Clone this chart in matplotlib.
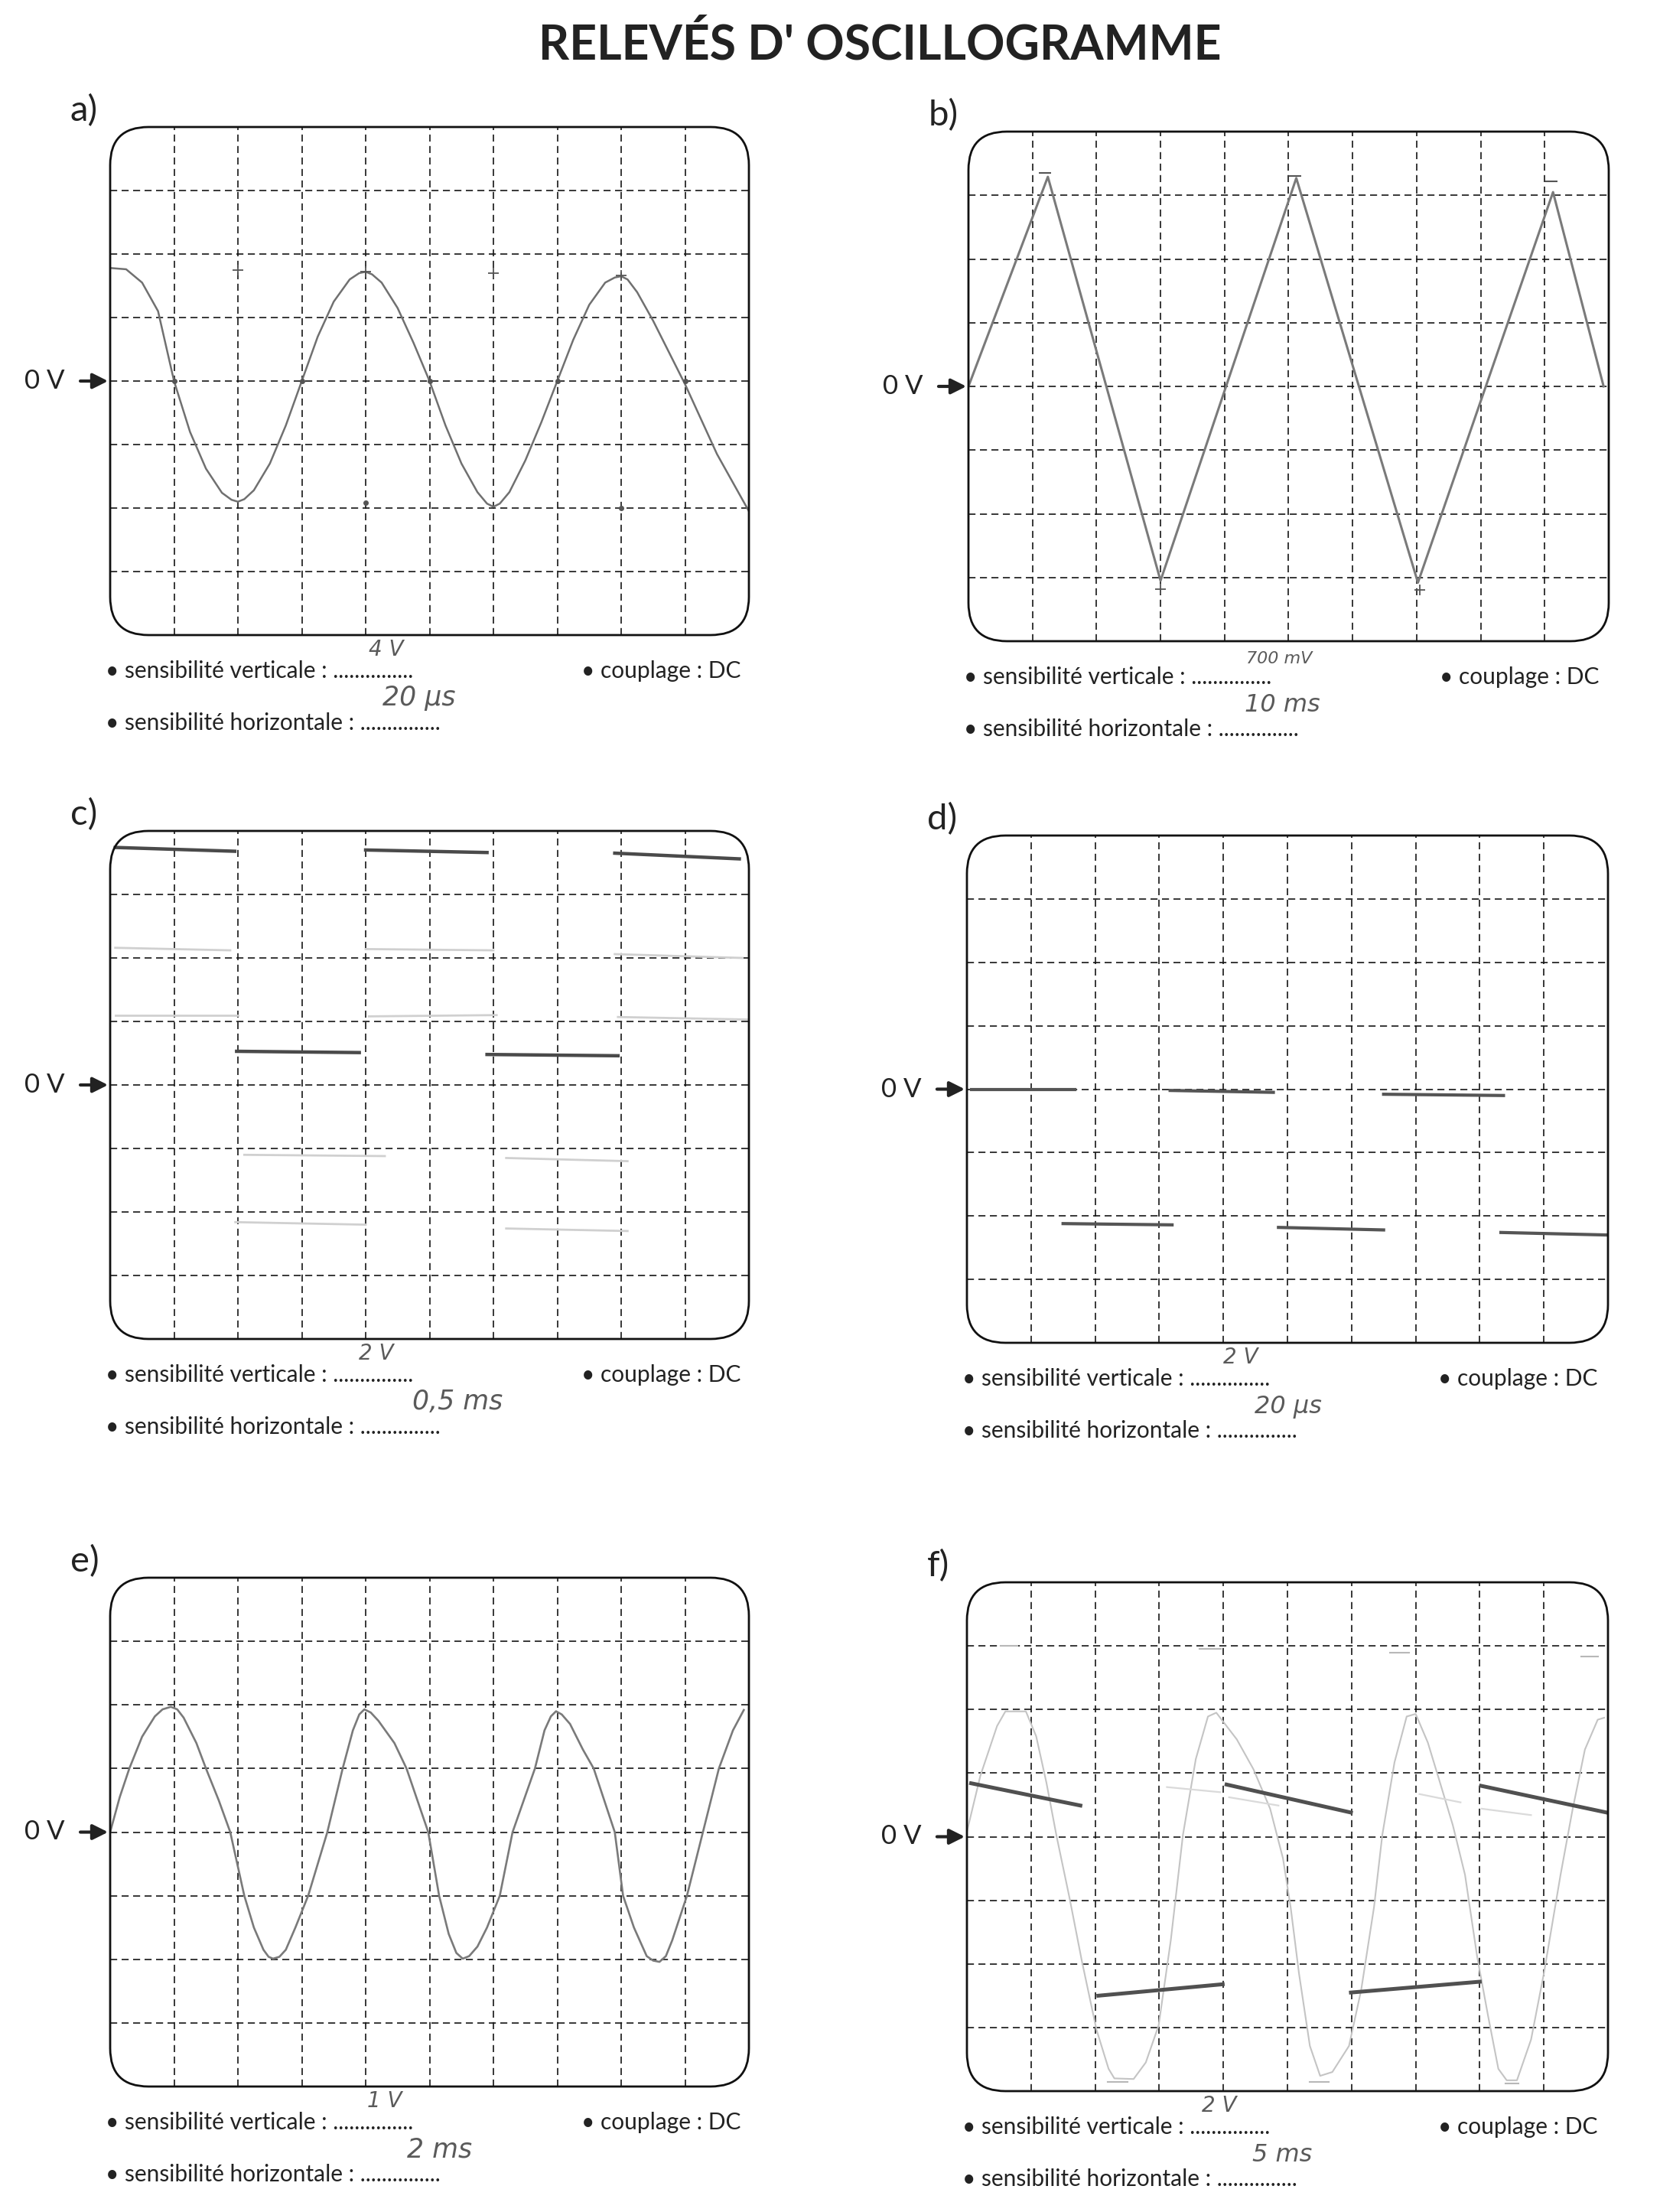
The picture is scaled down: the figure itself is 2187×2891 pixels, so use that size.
import matplotlib.pyplot as plt
from matplotlib.patches import FancyBboxPatch

W, H = 2187, 2891
plt.rcParams['font.family'] = ['Lato', 'DejaVu Sans']

# all traces in screen divisions: x 0..10, y -4..4 (0 V in the middle)

# a) sine, read every quarter division (plus a few around the turns)
a_t = [0.0, 0.25, 0.5, 0.75, 1.0, 1.25, 1.5, 1.75, 1.9, 2.0, 2.1, 2.25, 2.5, 2.75, 3.0, 3.25,
       3.5, 3.75, 3.9, 4.0, 4.1, 4.25, 4.5, 4.75, 5.0, 5.25, 5.5, 5.75, 5.9, 6.0, 6.1, 6.25,
       6.5, 6.75, 7.0, 7.25, 7.5, 7.75, 7.9, 8.0, 8.1, 8.25, 8.5, 8.75, 9.0, 9.25, 9.5, 9.75,
       10.0]
a_v = [1.78, 1.76, 1.55, 1.1, 0.0, -0.8, -1.38, -1.76, -1.87, -1.9, -1.86, -1.72, -1.3, -0.7,
       0.0, 0.7, 1.25, 1.6, 1.7, 1.72, 1.68, 1.55, 1.15, 0.6, 0.0, -0.7, -1.3, -1.75, -1.93,
       -1.98, -1.93, -1.75, -1.25, -0.65, 0.0, 0.65, 1.2, 1.55, 1.63, 1.65, 1.6, 1.4, 0.95,
       0.45, -0.05, -0.6, -1.15, -1.6, -2.05]
a_plus_t = [2, 4, 6, 8]
a_plus_v = [1.75, 1.72, 1.7, 1.66]
a_dot_t = [1, 3, 5, 7, 9, 4, 8]
a_dot_v = [0, 0, 0, 0, 0, -1.92, -2.0]

# b) triangle
b_t = [0.0, 1.24, 3.0, 5.12, 7.02, 9.13, 9.92]
b_v = [0.0, 3.29, -3.05, 3.27, -3.08, 3.05, 0.0]
b_top_t = [1.2, 5.1, 9.1]
b_top_v = [3.35, 3.3, 3.22]
b_bot_t = [3.0, 7.05]
b_bot_v = [-3.18, -3.2]

# c) square wave: dark final trace + faint erased attempts
c_x0 = [0.08, 1.98, 4.0, 5.9, 7.9]
c_x1 = [1.95, 3.9, 5.9, 7.95, 9.85]
c_y0 = [3.74, 0.53, 3.7, 0.48, 3.65]
c_y1 = [3.68, 0.51, 3.66, 0.46, 3.56]
cf_x0 = [0.08, 4.0, 7.9, 0.08, 4.05, 7.95, 2.1, 6.2, 1.96, 6.2]
cf_x1 = [1.88, 6.0, 9.9, 2.0, 6.05, 10.0, 4.3, 8.1, 4.0, 8.1]
cf_y0 = [2.16, 2.14, 2.06, 1.1, 1.08, 1.07, -1.1, -1.15, -2.16, -2.26]
cf_y1 = [2.12, 2.12, 2.0, 1.1, 1.1, 1.03, -1.12, -1.2, -2.2, -2.3]

# d) pulses
d_x0 = [0.07, 3.17, 6.5, 1.5, 4.86, 8.33]
d_x1 = [1.68, 4.78, 8.37, 3.2, 6.5, 10.0]
d_y0 = [0.0, -0.02, -0.08, -2.12, -2.18, -2.26]
d_y1 = [0.0, -0.05, -0.1, -2.14, -2.22, -2.3]

# e) sine
e_t = [0.0, 0.15, 0.3, 0.5, 0.7, 0.82, 0.95, 1.05, 1.15, 1.35, 1.5, 1.7, 1.88, 2.1, 2.25,
       2.4, 2.48, 2.55, 2.65, 2.75, 2.9, 3.1, 3.4, 3.64, 3.8, 3.9, 3.98, 4.08, 4.2, 4.45,
       4.64, 4.98, 5.15, 5.3, 5.42, 5.52, 5.62, 5.75, 5.9, 6.1, 6.3, 6.65, 6.8, 6.9, 6.98,
       7.07, 7.2, 7.4, 7.57, 7.9, 8.03, 8.2, 8.4, 8.5, 8.6, 8.7, 8.8, 9.03, 9.28, 9.53,
       9.75, 9.92]
e_v = [0.0, 0.55, 1.0, 1.5, 1.82, 1.93, 1.97, 1.93, 1.8, 1.4, 1.0, 0.5, 0.0, -1.0, -1.5,
       -1.85, -1.96, -1.99, -1.96, -1.85, -1.5, -1.0, 0.0, 1.0, 1.6, 1.85, 1.93, 1.88, 1.75,
       1.4, 1.0, 0.0, -1.0, -1.6, -1.9, -1.99, -1.95, -1.8, -1.5, -1.0, 0.0, 1.0, 1.6, 1.82,
       1.9, 1.85, 1.7, 1.3, 1.0, 0.0, -1.0, -1.5, -1.95, -2.02, -2.04, -1.95, -1.7, -1.0, 0.0,
       1.0, 1.6, 1.92]

# f) faint sine + dark sawtooth segments
f_t = [0.0, 0.21, 0.47, 0.6, 0.92, 1.08, 1.24, 1.4, 1.6, 1.79, 2.02, 2.21, 2.3, 2.6,
       2.79, 2.99, 3.18, 3.37, 3.57, 3.76, 3.89, 4.21, 4.47, 4.73, 4.93, 5.05, 5.18, 5.35,
       5.51, 5.7, 5.96, 6.15, 6.35, 6.48, 6.67, 6.86, 7.0, 7.19, 7.38, 7.58, 7.77, 7.96,
       8.13, 8.29, 8.42, 8.58, 8.8, 9.0, 9.26, 9.45, 9.64, 9.84, 9.94]
f_v = [0.08, 0.96, 1.74, 1.97, 1.97, 1.58, 0.85, 0.0, -0.96, -1.94, -3.03, -3.65, -3.8, -3.81,
       -3.55, -2.97, -1.63, 0.03, 1.22, 1.89, 1.95, 1.53, 1.06, 0.44, -0.34, -1.11, -2.15, -3.29,
       -3.76, -3.7, -3.29, -2.41, -1.11, 0.03, 1.17, 1.89, 1.93, 1.48, 0.85, 0.18, -0.6, -1.89,
       -2.82, -3.65, -3.83, -3.83, -3.19, -2.15, -0.6, 0.44, 1.37, 1.84, 1.87]
f_x0 = [0.065, 2.05, 4.05, 5.99, 8.02]
f_x1 = [1.77, 3.99, 5.99, 8.0, 9.98]
f_y0 = [0.84, -2.5, 0.82, -2.45, 0.8]
f_y1 = [0.49, -2.32, 0.38, -2.28, 0.38]
ff_x0 = [3.12, 4.09, 7.06, 8.03]
ff_x1 = [3.95, 4.86, 7.7, 8.8]
ff_y0 = [0.78, 0.62, 0.67, 0.44]
ff_y1 = [0.7, 0.49, 0.54, 0.34]
ftick_x0 = [0.53, 3.63, 6.6, 9.58, 2.2, 5.35, 8.4]
ftick_x1 = [0.79, 3.96, 6.9, 9.84, 2.5, 5.65, 8.6]
ftick_y = [3.0, 2.95, 2.89, 2.83, -3.85, -3.85, -3.88]

# handwritten settings, per panel: (vertical, horizontal)
labels = ['a)', 'b)', 'c)', 'd)', 'e)', 'f)']
sens_v = ['4 V', '700 mV', '2 V', '2 V', '1 V', '2 V']
sens_h = ['20 µs', '10 ms', '0,5 ms', '20 µs', '2 ms', '5 ms']

# screen boxes in pixels (left, top, right, bottom)
boxes = [(144, 166, 979, 830), (1266, 172, 2103, 838),
         (144, 1086, 979, 1750), (1264, 1092, 2102, 1755),
         (144, 2062, 979, 2727), (1264, 2068, 2102, 2733)]

fig = plt.figure(figsize=(W / 100, H / 100), dpi=100)
fig.patch.set_facecolor('white')

def ftext(x, y, s, **kw):
    fig.text(x / W, 1 - y / H, s, **kw)

axes = []
for k, (l, t, r, b) in enumerate(boxes):
    ax = fig.add_axes([l / W, 1 - b / H, (r - l) / W, (b - t) / H])
    ax.set_xlim(0, 10)
    ax.set_ylim(-4, 4)
    ax.axis('off')
    for i in range(1, 10):
        ax.plot([i, i], [-4, 4], color='#151515', lw=1.2, ls=(0, (5.5, 3.5)), zorder=1)
    for j in range(-3, 4):
        ax.plot([0, 10], [j, j], color='#151515', lw=1.2, ls=(0, (5.5, 3.5)), zorder=1)
    ax.add_patch(FancyBboxPatch((0, -4), 10, 8, boxstyle='round,pad=0,rounding_size=0.6',
                                fill=False, ec='#111111', lw=2.0, clip_on=False, zorder=3))
    # 0 V marker with arrow
    ax.annotate('', xy=(0, 0), xytext=(-0.5, 0),
                arrowprops=dict(arrowstyle='-|>', color='#222222', lw=3, mutation_scale=30),
                annotation_clip=False)
    ftext(l - 86, (t + b) / 2, '0 V', ha='center', va='center', fontsize=25, color='#222222')
    ftext(l - 52, t - 8, labels[k], ha='left', va='baseline', fontsize=34, color='#222222')
    # text rows under the screen
    ftext(l - 6, b + 47, '• sensibilité verticale : ...............', ha='left', va='center',
          fontsize=21.5, color='#222222')
    ftext(l - 6, b + 115, '• sensibilité horizontale : ...............', ha='left', va='center',
          fontsize=21.5, color='#222222')
    ftext(l + 616, b + 47, '• couplage : DC', ha='left', va='center', fontsize=21.5,
          color='#222222')
    axes.append(ax)

# handwritten values, sitting just above the dotted lines
hand_v_x = [505, 1672, 492, 1622, 503, 1594]
hand_h_x = [548, 1676, 598, 1684, 575, 1676]
hand_v_fs = [20, 16, 20, 20, 20, 20]
hand_h_fs = [25, 23, 25, 23, 25, 23]
for k, (l, t, r, b) in enumerate(boxes):
    ftext(hand_v_x[k], b + 33, sens_v[k], ha='center', va='bottom',
          fontsize=hand_v_fs[k], color='#5a5a5a', family='DejaVu Sans', style='oblique',
          weight='light')
    ftext(hand_h_x[k], b + 99, sens_h[k], ha='center', va='bottom',
          fontsize=hand_h_fs[k], color='#5a5a5a', family='DejaVu Sans', style='oblique',
          weight='light')

ax_a, ax_b, ax_c, ax_d, ax_e, ax_f = axes

ax_a.plot(a_t, a_v, color='#707070', lw=1.8, zorder=2)
ax_a.plot(a_plus_t, a_plus_v, ls='none', marker='+', ms=10, mew=1.3, color='#555555')
ax_a.plot(a_dot_t, a_dot_v, ls='none', marker='o', ms=4, color='#555555')

ax_b.plot(b_t, b_v, color='#7a7a7a', lw=2.2, zorder=2)
ax_b.plot(b_top_t, b_top_v, ls='none', marker='_', ms=12, mew=1.5, color='#555555')
ax_b.plot(b_bot_t, b_bot_v, ls='none', marker='+', ms=10, mew=1.3, color='#555555')

for i in range(len(cf_x0)):
    ax_c.plot([cf_x0[i], cf_x1[i]], [cf_y0[i], cf_y1[i]], color='#d0d0d0', lw=2.0, zorder=2)
for i in range(len(c_x0)):
    ax_c.plot([c_x0[i], c_x1[i]], [c_y0[i], c_y1[i]], color='#4a4a4a', lw=3.2, zorder=2)

for i in range(len(d_x0)):
    ax_d.plot([d_x0[i], d_x1[i]], [d_y0[i], d_y1[i]], color='#555555', lw=3.0, zorder=2)

ax_e.plot(e_t, e_v, color='#7a7a7a', lw=1.9, zorder=2)

ax_f.plot(f_t, f_v, color='#c4c4c4', lw=1.5, zorder=2)
for i in range(len(ff_x0)):
    ax_f.plot([ff_x0[i], ff_x1[i]], [ff_y0[i], ff_y1[i]], color='#dadada', lw=1.6, zorder=2)
for i in range(len(ftick_x0)):
    ax_f.plot([ftick_x0[i], ftick_x1[i]], [ftick_y[i], ftick_y[i]], color='#b8b8b8', lw=1.5,
              zorder=2)
for i in range(len(f_x0)):
    ax_f.plot([f_x0[i], f_x1[i]], [f_y0[i], f_y1[i]], color='#505050', lw=3.6, zorder=2)

ftext(1150, 59, "RELEVÉS D' OSCILLOGRAMME", ha='center', va='center', fontsize=45,
      fontweight='bold', color='#222222')

fig.savefig('out.png', dpi=100, facecolor='white')
